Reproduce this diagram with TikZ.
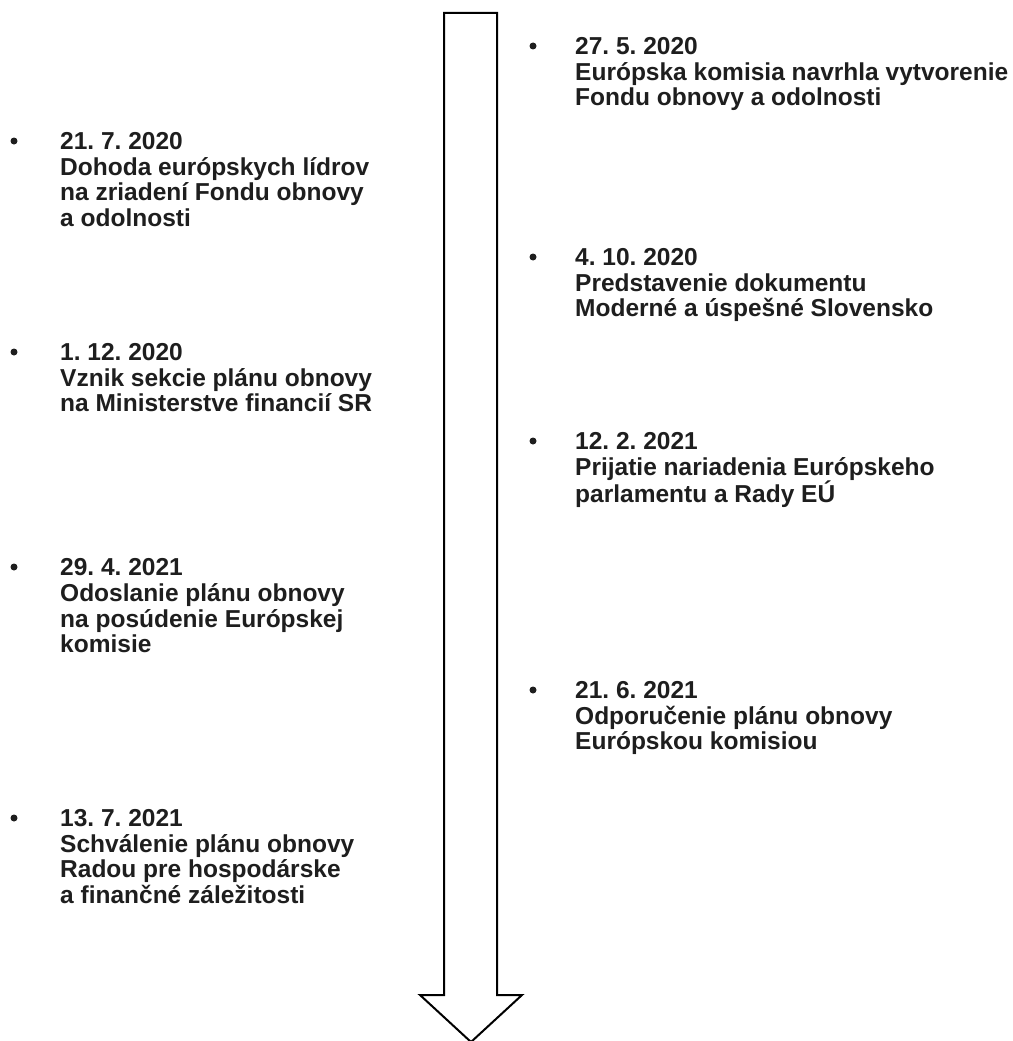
\documentclass[tikz,border=0pt]{standalone}
\usepackage{fontspec}
\setmainfont{Liberation Sans}
\frenchspacing
\definecolor{txt}{HTML}{1E1E1E}
\begin{document}
\begin{tikzpicture}[x=1pt,y=-1pt,
  item/.style={anchor=north west,inner sep=0pt,align=left,text=txt,
    font=\frenchspacing\bfseries\fontsize{24.5}{25.7}\selectfont},
  dot/.style={circle,fill=txt,inner sep=0pt,minimum size=7pt},
  arrowshape/.style={draw=black,line width=2pt,line join=miter,fill=white}]
\useasboundingbox (0,0) rectangle (1012,1041);
% arrow
\draw[arrowshape] (444,13) -- (497,13) -- (497,995) -- (522,995) -- (471,1042)
  -- (420,995) -- (444,995) -- cycle;
% left column
\node[dot] (b1) at (14,141) {};
\node[item] (t1) at (60,132) {21. 7. 2020\\Dohoda európskych lídrov\\na zriadení Fondu obnovy\\a odolnosti};
\node[dot] (b2) at (14,352) {};
\node[item] (t2) at (60,343) {1. 12. 2020\\Vznik sekcie plánu obnovy\\na Ministerstve financií SR};
\node[dot] (b3) at (14,567) {};
\node[item] (t3) at (60,558.5) {29. 4. 2021\\Odoslanie plánu obnovy\\na posúdenie Európskej\\komisie};
\node[dot] (b4) at (14,818) {};
\node[item] (t4) at (60,809) {13. 7. 2021\\Schválenie plánu obnovy\\Radou pre hospodárske\\a finančné záležitosti};
% right column
\node[dot] (b5) at (533,46) {};
\node[item] (t5) at (575,37) {27. 5. 2020\\Európska komisia navrhla vytvorenie\\Fondu obnovy a odolnosti};
\node[dot] (b6) at (533,257) {};
\node[item] (t6) at (575,248) {4. 10. 2020\\Predstavenie dokumentu\\Moderné a úspešné Slovensko};
\node[dot] (b7) at (533,441) {};
\node[item] (t7) at (575,432) {12. 2. 2021\\Prijatie nariadenia Európskeho\\parlamentu a Rady EÚ};
\node[dot] (b8) at (533,690) {};
\node[item] (t8) at (575,681) {21. 6. 2021\\Odporučenie plánu obnovy\\Európskou komisiou};
\end{tikzpicture}
\end{document}
